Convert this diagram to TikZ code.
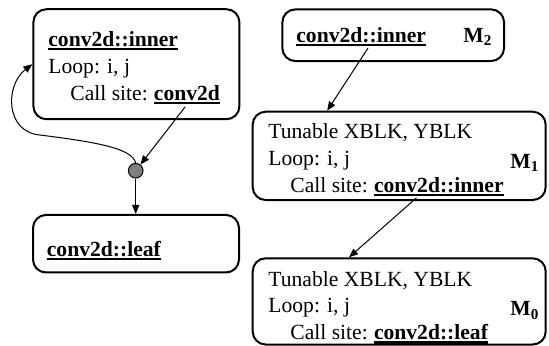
\documentclass[tikz,border=0pt]{standalone}
\usepackage{fontspec}
\setmainfont{Liberation Serif}
\usepackage{tikz}
\usetikzlibrary{arrows.meta,calc}

\newcommand{\ulb}[1]{\vtop{\hbox{\textbf{#1}}\kern0.8pt\hrule height 1.1pt}}

\tikzset{
	box/.style={draw, line width=1pt, rounded corners=6.5pt, inner sep=0pt},
	lbl/.style={anchor=base west, inner sep=0pt, font=\fontsize{10.8}{13}\selectfont},
	link/.style={->, line width=0.5pt},
	>={Triangle[length=4.5pt,width=3.6pt]}
}

\begin{document}
\begin{tikzpicture}[x=0.5pt,y=-0.5pt]
		\useasboundingbox (0,0) rectangle (549,345);
		
		\node[box, minimum width=103pt, minimum height=55pt] (innerA) at (136.4,64.2) {};
		\node[box, minimum width=103pt, minimum height=28.75pt] (leafA) at (136,243.7) {};
		\node[box, minimum width=110.85pt, minimum height=25.85pt] (boxM2) at (393.2,35.2) {};
		\node[box, minimum width=146.5pt, minimum height=44.15pt] (boxM1) at (399.2,155.85) {};
		\node[box, minimum width=146.5pt, minimum height=43.1pt] (boxM0) at (399.2,301.4) {};
		
		\node[circle, draw, fill=gray, line width=0.5pt, minimum size=7.3pt, inner sep=0pt] (dot) at (135.7,170.7) {};
		
		\node[lbl] (nameA) at (48,46) {\ulb{conv2d::inner}};
		\node[lbl] (loopA) at (48,73) {Loop: i, j};
		\node[lbl] (siteA) at (70,100) {Call site:};
		\node[lbl] (callA) at ([xshift=2.7pt]siteA.base east) {\ulb{conv2d}};
		\node[lbl] (nameL) at (46.5,256) {\ulb{conv2d::leaf}};
		
		\node[lbl] (nameM2) at (296,42) {\ulb{conv2d::inner}};
		\node[lbl] (tagM2) at (463,42) {\textbf{M\textsubscript{2}}};
		\foreach \m/\y in {1/138.5, 0/286}{
			\node[lbl] (tunM\m) at (268,\y) {Tunable XBLK, YBLK};
			\node[lbl] (loopM\m) at (268,\y+26.75) {Loop: i, j};
			\node[lbl] (siteM\m) at (290,\y+53.5) {Call site:};
			\node[lbl] (tagM\m) at (510,\y+29.8) {\textbf{M\textsubscript{\m}}};
		}
		\node[lbl] (callM1) at ([xshift=2.7pt]siteM1.base east) {\ulb{conv2d::inner}};
		\node[lbl] (callM0) at ([xshift=2.7pt]siteM0.base east) {\ulb{conv2d::leaf}};
		
		\draw[link, shorten <=1.5pt] (callA.south) -- (dot);
		\draw[link] (dot) -- (dot |- leafA.north);
		\draw[link] (dot.north) .. controls (132,148) and (95,142) .. (40,135) .. controls (5,132) and (5,85) .. (innerA.west);
		\draw[link, shorten <=1pt] ($(nameM2.south west)!0.56!(nameM2.south east)$) -- ($(boxM1.north west)!0.256!(boxM1.north east)$);
		\draw[link, shorten <=1pt] ($(callM1.south west)!0.34!(callM1.south east)$) -- ($(boxM0.north west)!0.33!(boxM0.north east)$);
	\end{tikzpicture}
\end{document}
